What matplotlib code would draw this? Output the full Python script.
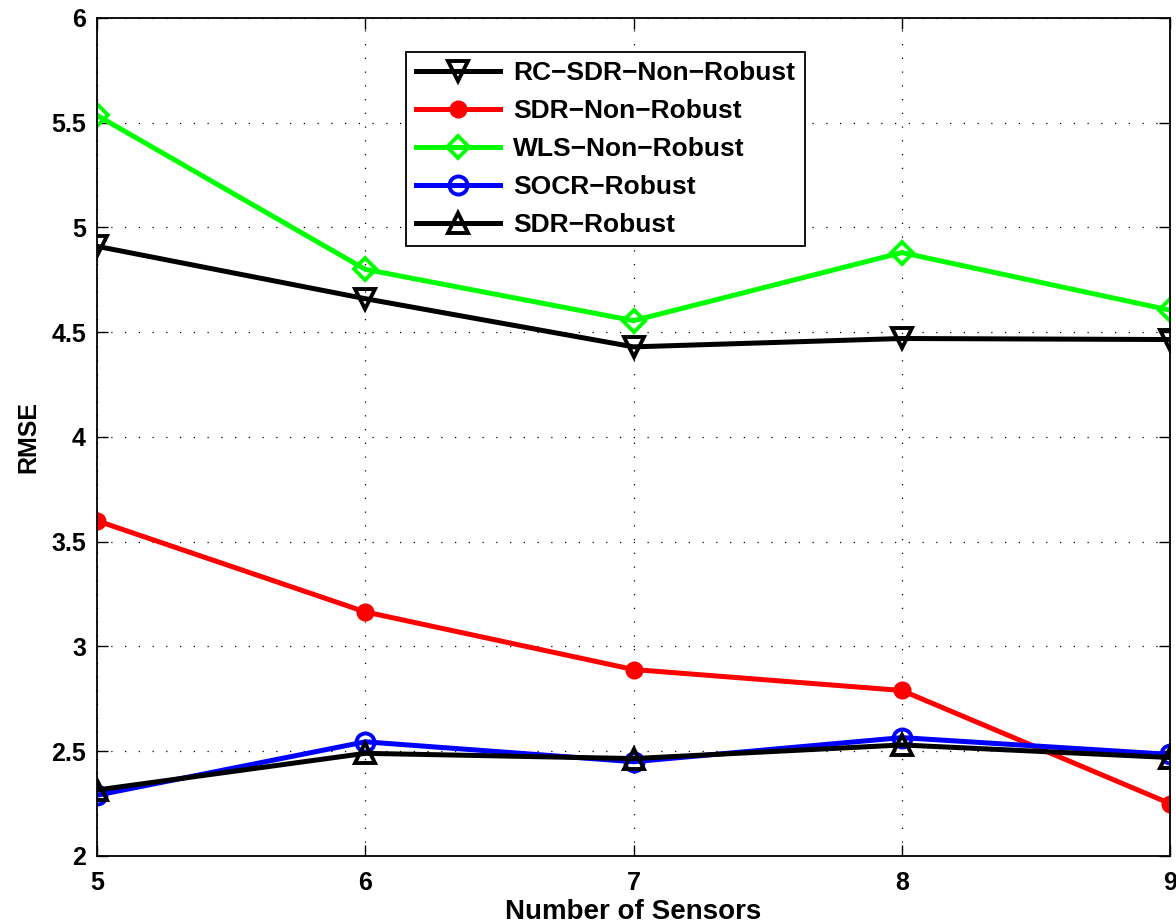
import matplotlib.pyplot as plt

plt.rcParams['font.family'] = ['Liberation Sans', 'DejaVu Sans']
plt.rcParams['font.weight'] = 'bold'

sensors = [5, 6, 7, 8, 9]
rc_sdr_non_robust = [4.91, 4.66, 4.43, 4.47, 4.465]
sdr_non_robust = [3.60, 3.165, 2.89, 2.79, 2.25]
wls_non_robust = [5.535, 4.80, 4.555, 4.88, 4.605]
socr_robust = [2.29, 2.545, 2.45, 2.565, 2.485]
sdr_robust = [2.315, 2.49, 2.465, 2.53, 2.47]

fig = plt.figure(figsize=(11.76, 9.24), dpi=100)
ax = fig.add_axes([0.0825, 0.0736, 0.9125, 0.907])

lw = 3.6
ax.plot(sensors, rc_sdr_non_robust, color='black', lw=lw, marker='v', ms=15,
        mfc='none', mew=2.8, label='RC\u2212SDR\u2212Non\u2212Robust')
ax.plot(sensors, sdr_non_robust, color='red', lw=lw, marker='o', ms=11,
        mfc='red', mew=2, label='SDR\u2212Non\u2212Robust')
ax.plot(sensors, wls_non_robust, color='#00ff00', lw=lw, marker='D', ms=11,
        mfc='none', mew=2.8, label='WLS\u2212Non\u2212Robust')
ax.plot(sensors, socr_robust, color='blue', lw=lw, marker='o', ms=13,
        mfc='none', mew=2.8, label='SOCR\u2212Robust')
ax.plot(sensors, sdr_robust, color='black', lw=lw, marker='^', ms=15,
        mfc='none', mew=2.8, label='SDR\u2212Robust')

ax.set_xlim(5, 9)
ax.set_ylim(2, 6)
ax.set_xticks(sensors)
ax.set_yticks([2, 2.5, 3, 3.5, 4, 4.5, 5, 5.5, 6])
ax.set_yticklabels(['2', '2.5', '3', '3.5', '4', '4.5', '5', '5.5', '6'])
ax.tick_params(direction='in', top=True, right=True, labelsize=18, length=8,
               width=1, pad=8)
ax.tick_params(axis='x', pad=11)
ax.grid(True, color='black', linestyle=(0, (1, 10)), linewidth=0.9)
for s in ax.spines.values():
    s.set_linewidth(1.3)

ax.set_xlabel('Number of Sensors', fontsize=20, fontweight='bold', labelpad=3)
ax.set_ylabel('RMSE', fontsize=18, fontweight='bold', labelpad=8)

leg = ax.legend(loc='upper left', bbox_to_anchor=(0.276, 0.975), fontsize=19,
                fancybox=False, edgecolor='black', framealpha=1,
                handlelength=3.2, borderpad=0.35, labelspacing=0.53,
                handletextpad=0.5)
leg.get_frame().set_linewidth(1.3)

fig.savefig('out.png', dpi=100)
